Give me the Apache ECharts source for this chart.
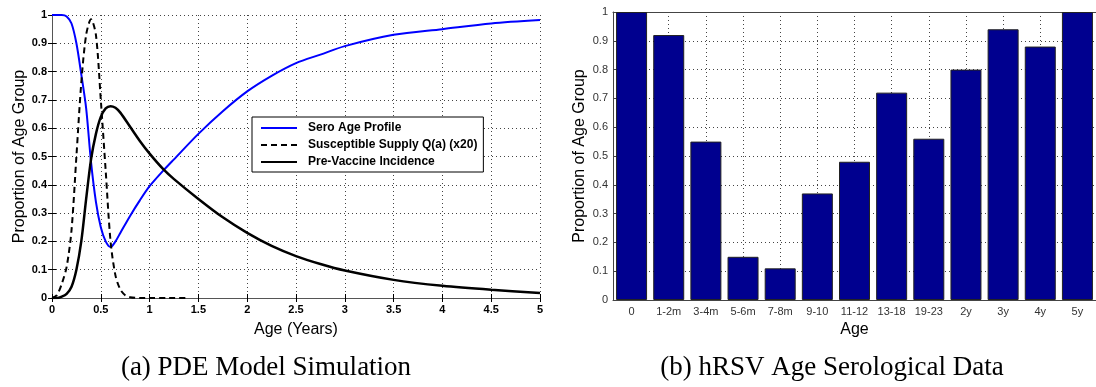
<!DOCTYPE html>
<html>
<head>
<meta charset="utf-8">
<script src="https://cdn.jsdelivr.net/npm/echarts@6/dist/echarts.min.js"></script>
<style>
    html, body { margin: 0; padding: 0; background: #fff; }
    #chart { width: 1096px; height: 387px; }
</style>
</head>
<body>
<div id="chart"></div>
<script>
// (a) PDE model curves
const seroAge = [0, 0.05, 0.1, 0.15, 0.2, 0.25, 0.3, 0.35, 0.4, 0.45, 0.5, 0.55, 0.6, 0.65, 0.7, 0.8, 0.9, 1.0, 1.14, 1.25, 1.5, 1.75, 2, 2.25, 2.5, 2.75, 3, 3.5, 4, 4.5, 5];
const seroVal = [1, 1, 1, 0.995, 0.97, 0.9, 0.79, 0.67, 0.48, 0.34, 0.25, 0.2, 0.18, 0.2, 0.23, 0.29, 0.345, 0.395, 0.45, 0.49, 0.58, 0.66, 0.73, 0.785, 0.83, 0.86, 0.89, 0.93, 0.95, 0.97, 0.982];

const suscAge = [0, 0.05, 0.1, 0.15, 0.2, 0.25, 0.3, 0.35, 0.4, 0.45, 0.5, 0.55, 0.6, 0.65, 0.7, 0.75, 0.8, 0.9, 1.0, 1.2, 1.4];
const suscVal = [0, 0.01, 0.05, 0.11, 0.24, 0.5, 0.76, 0.93, 0.985, 0.93, 0.7, 0.45, 0.2, 0.08, 0.03, 0.01, 0.003, 0, 0, 0, 0];

const incAge = [0, 0.05, 0.1, 0.15, 0.2, 0.25, 0.3, 0.35, 0.4, 0.45, 0.5, 0.55, 0.6, 0.65, 0.7, 0.8, 0.9, 1.0, 1.14, 1.25, 1.5, 1.75, 2, 2.25, 2.5, 2.75, 3, 3.5, 4, 4.5, 5];
const incVal = [0, 0, 0.005, 0.015, 0.04, 0.1, 0.2, 0.35, 0.49, 0.58, 0.64, 0.67, 0.678, 0.672, 0.655, 0.605, 0.555, 0.51, 0.455, 0.42, 0.35, 0.285, 0.23, 0.184, 0.148, 0.12, 0.097, 0.064, 0.043, 0.029, 0.018];

// (b) serological data
const ageGroups = ['0', '1-2m', '3-4m', '5-6m', '7-8m', '9-10', '11-12', '13-18', '19-23', '2y', '3y', '4y', '5y'];
const seroProp = [1, 0.92, 0.55, 0.15, 0.11, 0.37, 0.48, 0.72, 0.56, 0.80, 0.94, 0.88, 1];

const legendNames = ['Sero Age Profile', 'Susceptible Supply Q(a) (x20)', 'Pre-Vaccine Incidence'];

function pairs(xs, ys) {
    return xs.map((x, i) => [x, ys[i]]);
}

// half-step slots so the vertical grid lines land on bar centres
const halfSlots = [];
for (let i = 0; i <= ageGroups.length * 2; i++) halfSlots.push(String(i));

const myChart = echarts.init(document.getElementById('chart'));

const dotted = { show: true, lineStyle: { color: '#444', type: [1, 3], width: 1 } };
const boldTick = { color: '#000', fontWeight: 'bold', fontSize: 11, fontFamily: 'Liberation Sans' };
const thinTick = { color: '#333', fontSize: 11, fontFamily: 'Liberation Sans' };
const nameFont = { fontSize: 16, color: '#000', fontFamily: 'Liberation Sans' };

const option = {
    animation: false,
    backgroundColor: '#fff',
    grid: [
        { left: 52, top: 15, width: 488, height: 283 },
        { left: 613, top: 12, width: 489, height: 288 }
    ],
    legend: {
        data: legendNames,
        orient: 'vertical',
        left: 252,
        top: 117,
        itemWidth: 36,
        itemHeight: 12,
        itemGap: 5,
        backgroundColor: '#fff',
        borderColor: '#000',
        borderWidth: 1,
        borderRadius: 0,
        padding: [5, 6, 4, 8],
        itemStyle: { opacity: 0 },
        textStyle: { fontWeight: 'bold', fontSize: 12, color: '#000', fontFamily: 'Liberation Sans', padding: [0, 0, 0, 6] }
    },
    xAxis: [
        {
            gridIndex: 0, type: 'value', min: 0, max: 5, interval: 0.5,
            name: 'Age (Years)', nameLocation: 'middle', nameGap: 24, nameTextStyle: nameFont,
            axisLine: { lineStyle: { color: '#000' } },
            axisTick: { inside: true, length: 4, lineStyle: { color: '#000' } },
            axisLabel: Object.assign({ margin: 6 }, boldTick),
            splitLine: dotted
        },
        {
            gridIndex: 0, type: 'value', min: 0, max: 5, interval: 0.5, position: 'top',
            axisLine: { lineStyle: { color: '#555' } },
            axisTick: { inside: true, length: 4, lineStyle: { color: '#000' } },
            axisLabel: { show: false }, splitLine: { show: false }
        },
        {
            gridIndex: 1, type: 'category', data: ageGroups,
            name: 'Age', nameLocation: 'middle', nameGap: 22, nameTextStyle: nameFont,
            axisLine: { lineStyle: { color: '#444' } },
            axisTick: { inside: true, length: 4, alignWithLabel: true, lineStyle: { color: '#444' } },
            axisLabel: Object.assign({ margin: 6, interval: 0 }, thinTick),
            splitLine: { show: false }
        },
        {
            gridIndex: 1, type: 'category', data: ageGroups, position: 'top',
            axisLine: { lineStyle: { color: '#444' } },
            axisTick: { inside: true, length: 4, alignWithLabel: true, lineStyle: { color: '#444' } },
            axisLabel: { show: false }, splitLine: { show: false }
        },
        {
            // grid-only axis: lines at odd half-slots = category centres
            gridIndex: 1, type: 'category', data: halfSlots, boundaryGap: false, position: 'bottom',
            axisLine: { show: false }, axisTick: { show: false }, axisLabel: { show: false },
            splitLine: { show: true, interval: (idx) => idx % 2 === 1, lineStyle: { color: '#444', type: [1, 3], width: 1 } }
        }
    ],
    yAxis: [
        {
            gridIndex: 0, type: 'value', min: 0, max: 1, interval: 0.1,
            name: 'Proportion of Age Group', nameLocation: 'middle', nameGap: 24, nameTextStyle: nameFont,
            axisLine: { show: true, lineStyle: { color: '#000' } },
            axisTick: { show: true, inside: true, length: 4, lineStyle: { color: '#000' } },
            axisLabel: Object.assign({ margin: 5 }, boldTick),
            splitLine: dotted
        },
        {
            gridIndex: 0, type: 'value', min: 0, max: 1, interval: 0.1, position: 'right',
            axisLine: { show: true, lineStyle: { color: '#555' } },
            axisTick: { show: true, inside: true, length: 4, lineStyle: { color: '#000' } },
            axisLabel: { show: false }, splitLine: { show: false }
        },
        {
            gridIndex: 1, type: 'value', min: 0, max: 1, interval: 0.1,
            name: 'Proportion of Age Group', nameLocation: 'middle', nameGap: 25, nameTextStyle: nameFont,
            axisLine: { show: true, lineStyle: { color: '#444' } },
            axisTick: { show: true, inside: true, length: 4, lineStyle: { color: '#444' } },
            axisLabel: Object.assign({ margin: 5 }, thinTick),
            splitLine: dotted
        }
    ],
    series: [
        {
            name: legendNames[0], type: 'line', xAxisIndex: 0, yAxisIndex: 0,
            data: pairs(seroAge, seroVal), symbol: 'none', smooth: 0.3,
            lineStyle: { color: '#0000ff', width: 2 }, itemStyle: { color: '#0000ff' }
        },
        {
            name: legendNames[1], type: 'line', xAxisIndex: 0, yAxisIndex: 0,
            data: pairs(suscAge, suscVal), symbol: 'none', smooth: 0.3,
            lineStyle: { color: '#000', width: 2, type: [6, 4] }, itemStyle: { color: '#000' }
        },
        {
            name: legendNames[2], type: 'line', xAxisIndex: 0, yAxisIndex: 0,
            data: pairs(incAge, incVal), symbol: 'none', smooth: 0.3,
            lineStyle: { color: '#000', width: 2.5 }, itemStyle: { color: '#000' }
        },
        {
            name: 'Serology', type: 'bar', xAxisIndex: 2, yAxisIndex: 2,
            data: seroProp, barWidth: 31,
            itemStyle: { color: '#00008f', borderColor: '#222', borderWidth: 1 }
        }
    ],
    graphic: [
        {
            type: 'text', x: 266, y: 368,
            style: { text: '(a) PDE Model Simulation', align: 'center', verticalAlign: 'middle',
                     font: '27px "Liberation Serif"', fill: '#000' }
        },
        {
            type: 'text', x: 832, y: 368,
            style: { text: '(b) hRSV Age Serological Data', align: 'center', verticalAlign: 'middle',
                     font: '27px "Liberation Serif"', fill: '#000' }
        }
    ]
};

myChart.setOption(option);
</script>
</body>
</html>
